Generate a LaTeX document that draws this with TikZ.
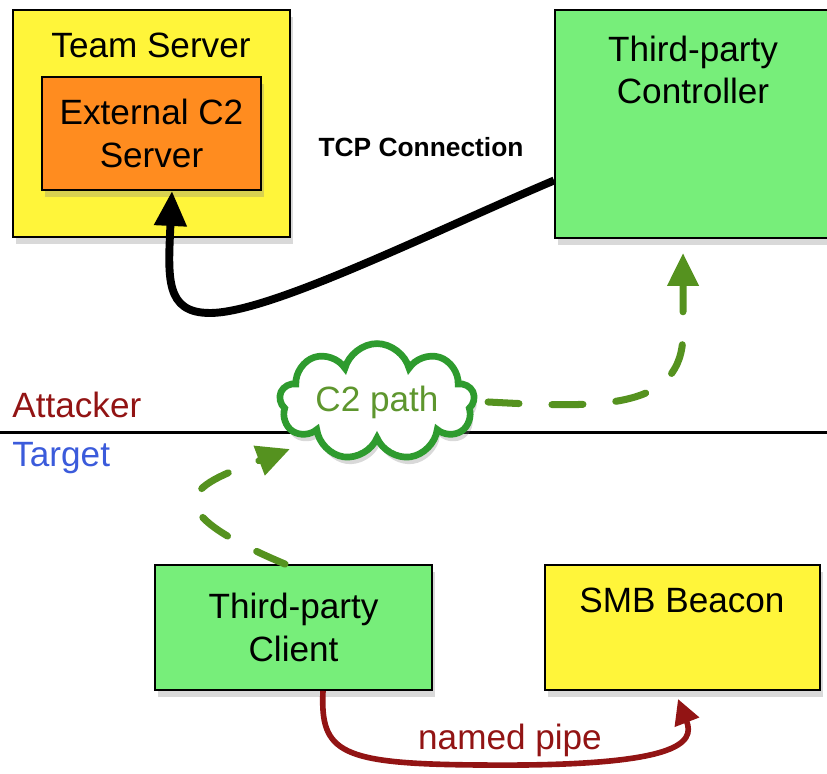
\documentclass[tikz,border=0pt]{standalone}
\usepackage{fontspec}
\setmainfont{Liberation Sans}
\usetikzlibrary{arrows.meta,shapes.symbols,shadows}

\definecolor{boxyellow}{HTML}{FFF53A}
\definecolor{boxorange}{HTML}{FF8C1F}
\definecolor{boxgreen}{HTML}{77EE7A}
\definecolor{pathgreen}{HTML}{55921F}
\definecolor{cloudgreen}{HTML}{2E9B2E}
\definecolor{labelgreen}{HTML}{5E962E}
\definecolor{pipered}{HTML}{921414}
\definecolor{targetblue}{HTML}{3B5BDB}

\begin{document}
\begin{tikzpicture}[x=0.02cm, y=0.02cm,
		box/.style={draw=black, line width=1.1pt, rectangle, inner sep=0pt,
			drop shadow={shadow xshift=1.5pt, shadow yshift=-4pt, opacity=0.3}},
		big/.style={font=\fontsize{20}{24}\selectfont, align=center},
		c2flow/.style={pathgreen, line width=4pt, line cap=round,
			dash pattern=on 0.62cm off 0.66cm, -{Triangle[length=0.66cm,width=0.6cm]}}]
		\clip (0,0) rectangle (827,773);

		% ATTACKER / TARGET BORDER
		\draw[line width=1.7pt] (0,340) -- (827,340);
		\node[big, text=pipered, anchor=west, inner sep=0pt] (attacker) at (12,368) {Attacker};
		\node[big, text=targetblue, anchor=west, inner sep=0pt] (target) at (12,315) {Target};

		% TEAM SERVER
		\node[box, fill=boxyellow, minimum width=5.54cm, minimum height=4.54cm] (teamsrv) at (151.5,649.5) {};
		\node[big] (teamlbl) at (151,728) {Team Server};
		\node[box, fill=boxorange, minimum width=4.38cm, minimum height=2.26cm, big] (extsrv) at (151.5,639.5) {External C2\\Server};

		% CONTROLLER
		\node[box, fill=boxgreen, minimum width=5.72cm, minimum height=4.56cm] (ctrl) at (698,649) {};
		\node[big] (ctrllbl) at (693,703) {Third-party\\Controller};
		\node[font=\fontsize{15}{18}\selectfont\bfseries] (tcplbl) at (421,626) {TCP Connection};

		% TARGET SIDE
		\node[box, fill=boxgreen, minimum width=5.54cm, minimum height=2.5cm, big] (client) at (293.5,145.5) {Third-party\\Client};
		\node[box, fill=boxyellow, minimum width=5.5cm, minimum height=2.5cm] (smb) at (682.5,145.5) {};
		\node[big] (smblbl) at (682,173) {SMB Beacon};

		% C2 PATH
		\node[cloud, cloud puffs=9, aspect=2.3, draw=cloudgreen, line width=3.8pt, fill=white,
			minimum width=3.9cm, minimum height=1.75cm, inner sep=0pt, big, text=labelgreen,
			drop shadow={shadow xshift=1.5pt, shadow yshift=-4pt, opacity=0.3}] (cloud) at (377,371) {C2 path};

		% CONNECTORS
		\draw[line width=4.5pt, -{Triangle[length=0.7cm,width=0.62cm]}]
			([yshift=-1.13cm]ctrl.west) .. controls (430,540) and (270,460) .. (210,460)
			.. controls (165,460) and (168,495) .. ([xshift=0.41cm]extsrv.south);
		\draw[c2flow] ([xshift=0.22cm]cloud.east) .. controls (600,365) and (683,362) .. (683,440)
			-- ([xshift=-0.3cm,yshift=-0.28cm]ctrl.south);
		\draw[c2flow] ([xshift=-0.17cm]client.north) .. controls (140,270) and (200,290)
			.. ([xshift=-1.74cm,yshift=-0.94cm]cloud.center);
		\draw[pipered, line width=3.2pt, -{Triangle[length=0.5cm,width=0.5cm]}]
			([xshift=0.59cm]client.south) .. controls (320,20) and (340,9) .. (480,8)
			.. controls (680,6) and (695,30) .. ([xshift=-0.09cm,yshift=-0.16cm]smb.south);
		\node[big, text=pipered] (pipelbl) at (510,33) {named pipe};
	\end{tikzpicture}
\end{document}
